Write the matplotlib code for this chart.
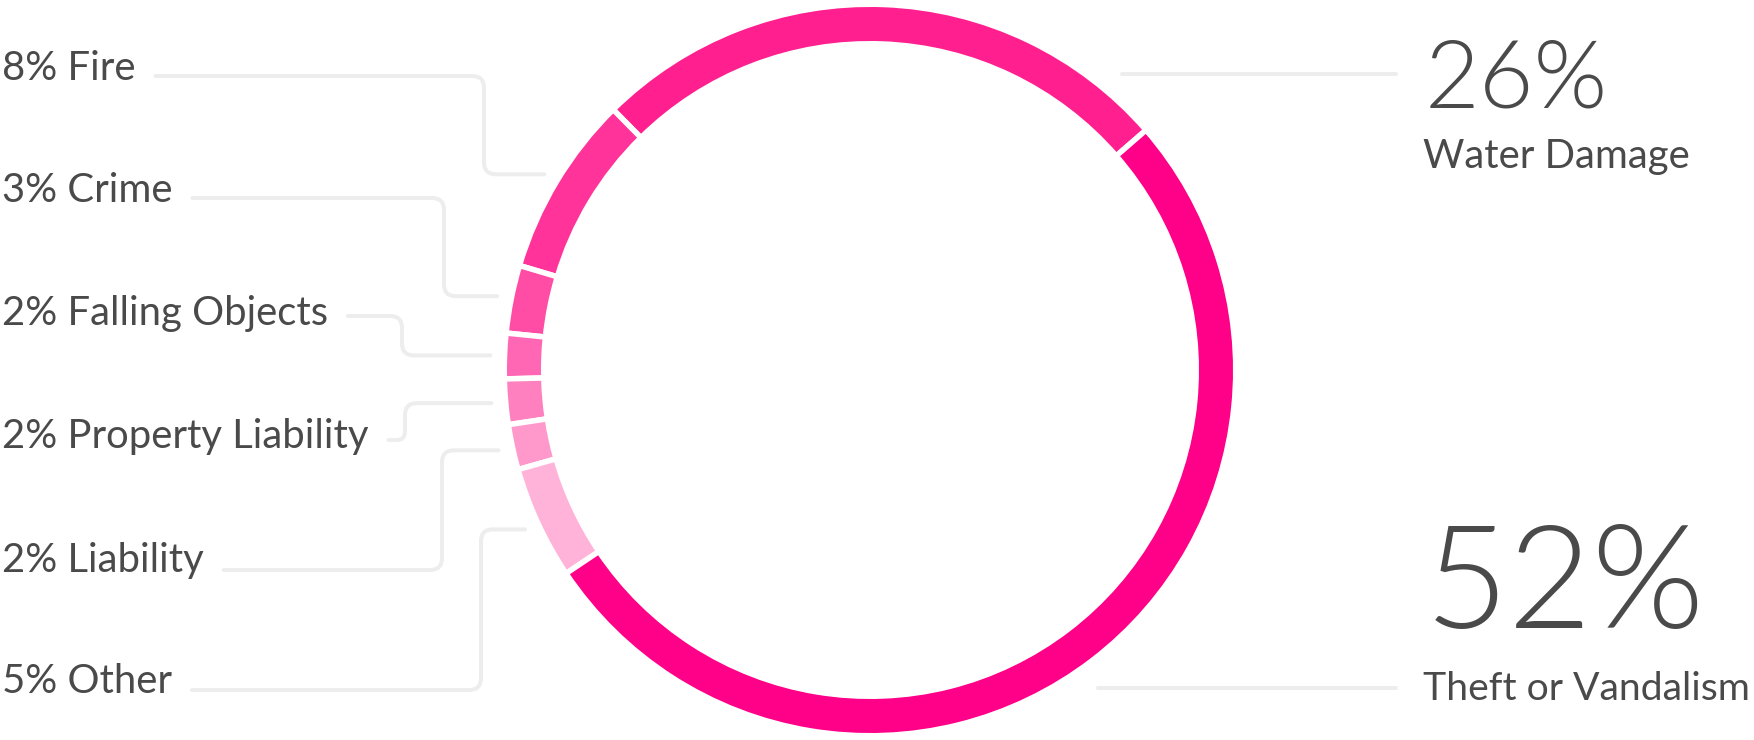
import matplotlib
matplotlib.use('Agg')
from matplotlib import pyplot as plt
from matplotlib.path import Path
from matplotlib.patches import PathPatch
import numpy as np

# claim shares, in drawing order (counter-clockwise from the upper right)
categories = ['Water Damage', 'Fire', 'Crime', 'Falling Objects',
              'Property Liability', 'Liability', 'Other', 'Theft or Vandalism']
shares = [26, 8, 3, 2, 2, 2, 5, 52]
colors = ['#ff1f8f', '#ff3399', '#ff4da6', '#ff66b3',
          '#ff80bf', '#ff99cc', '#ffb3d9', '#ff0088']

left_cats = ['Fire', 'Crime', 'Falling Objects', 'Property Liability', 'Liability', 'Other']
right_cats = ['Water Damage', 'Theft or Vandalism']

# layout, in pixels of the 1754x740 canvas
W, H = 1754, 740
cx, cy = 870, 370
R, ring, gap = 363, 34, 5.5
text_color = '#4a4a4a'
line_color = '#ededed'
line_w = 4 * 72 / 100
label_size = 28.8

left_base = [80, 202, 325, 448, 572, 693]   # text baselines
left_line_y = [76, 198, 316, 440, 570, 690]
left_elbow_x = [484, 444, 402, 405, 442, 481]
right_line = [(1122, 74), (1098, 688)]
right_line_end = 1396
right_pct_base = [108, 628]
right_pct_size = [68, 104]
right_lab_base = [168, 700]

plt.rcParams['font.family'] = ['Lato', 'DejaVu Sans']

fig = plt.figure(figsize=(W / 100, H / 100), dpi=100)
ax = fig.add_axes([0, 0, 1, 1])

# y axis is flipped, so clockwise in data is counter-clockwise on screen
wedges, _ = ax.pie(shares, colors=colors, center=(cx, cy), radius=R + gap / 2,
                   startangle=-41, counterclock=False,
                   wedgeprops=dict(width=ring + gap, edgecolor='white',
                                   linewidth=gap * 72 / 100))
ax.set_xlim(0, W)
ax.set_ylim(H, 0)
ax.set_aspect('equal')
ax.axis('off')


def elbow(points, r=12):
    # polyline with rounded corners
    verts = [points[0]]
    codes = [Path.MOVETO]
    for i in range(1, len(points) - 1):
        p0, p1, p2 = map(np.array, points[i - 1:i + 2])
        d0 = (p1 - p0) / np.linalg.norm(p1 - p0)
        d1 = (p2 - p1) / np.linalg.norm(p2 - p1)
        rr = min(r, np.linalg.norm(p1 - p0) / 2, np.linalg.norm(p2 - p1) / 2)
        verts += [tuple(p1 - d0 * rr), tuple(p1), tuple(p1 + d1 * rr)]
        codes += [Path.LINETO, Path.CURVE3, Path.CURVE3]
    verts.append(points[-1])
    codes.append(Path.LINETO)
    ax.add_patch(PathPatch(Path(verts, codes), fill=False, edgecolor=line_color,
                           lw=line_w, capstyle='round', joinstyle='round'))


fig.canvas.draw()
renderer = fig.canvas.get_renderer()
inv = ax.transData.inverted()

for i, cat in enumerate(left_cats):
    k = categories.index(cat)
    t = ax.text(2, left_base[i], f'{shares[k]}% {cat}', fontsize=label_size,
                color=text_color, ha='left', va='baseline')
    ext = t.get_window_extent(renderer)
    x_end = inv.transform((ext.x1, ext.y0))[0]
    w = wedges[k]
    mid = np.deg2rad((w.theta1 + w.theta2) / 2)
    tip = (cx + 380 * np.cos(mid), cy + 380 * np.sin(mid))
    elbow([(x_end + 20, left_line_y[i]), (left_elbow_x[i], left_line_y[i]),
           (left_elbow_x[i], tip[1]), tip])

for i, cat in enumerate(right_cats):
    k = categories.index(cat)
    x0, y0 = right_line[i]
    elbow([(x0, y0), (right_line_end, y0)])
    ax.text(1425, right_pct_base[i], f'{shares[k]}%', fontsize=right_pct_size[i],
            fontweight=300, color=text_color, ha='left', va='baseline')
    t = ax.text(1423, right_lab_base[i], cat, fontsize=label_size,
                color=text_color, ha='left', va='baseline')
    # keep the long label inside the canvas
    ext = t.get_window_extent(renderer)
    if ext.x1 > W - 4:
        t.set_fontsize(label_size * (W - 4 - ext.x0) / ext.width)

fig.savefig('out.png', dpi=100, facecolor='white')
